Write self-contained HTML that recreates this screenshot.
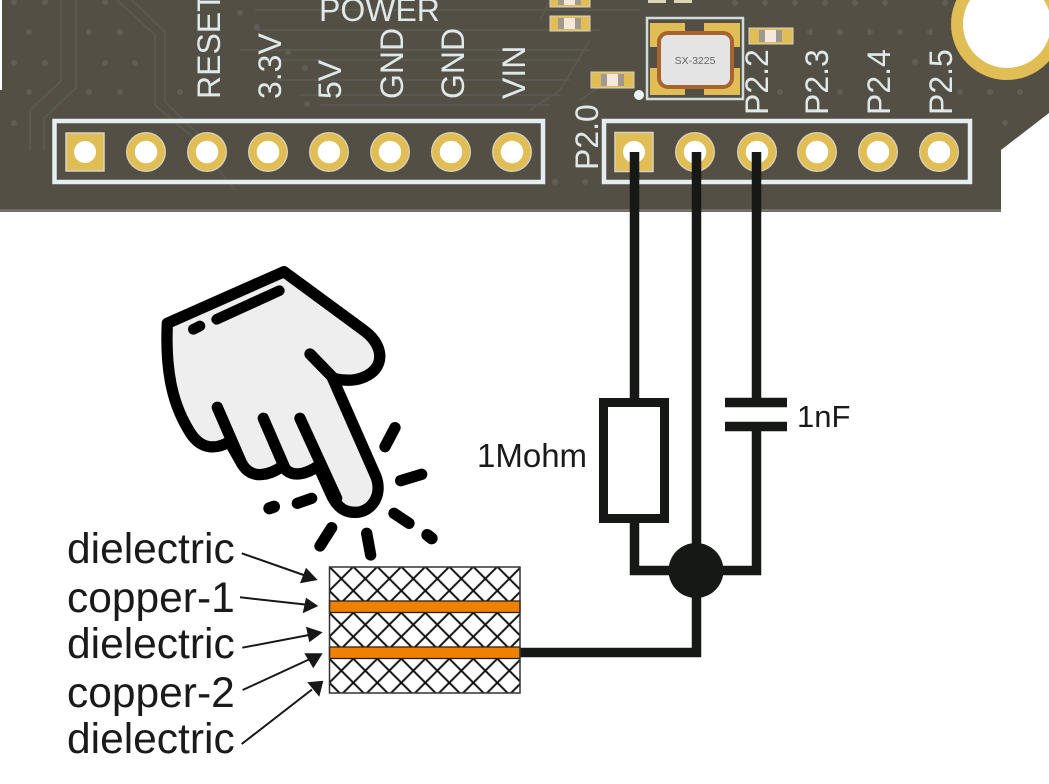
<!DOCTYPE html>
<html><head><meta charset="utf-8"><style>
html,body{margin:0;padding:0;background:#fff;width:1049px;height:784px;overflow:hidden}
svg{display:block}
text{font-family:"Liberation Sans",sans-serif}
</style></head><body>
<svg width="1049" height="784" viewBox="0 0 1049 784" xmlns="http://www.w3.org/2000/svg">
<defs>
<pattern id="h1" width="24" height="24" patternUnits="userSpaceOnUse" patternTransform="translate(329.3 566.7)"><path d="M-1 -1L25 25M25 -1L-1 25" stroke="#111" stroke-width="2" fill="none"/></pattern>
<pattern id="h2" width="24" height="24" patternUnits="userSpaceOnUse" patternTransform="translate(329.3 612.7)"><path d="M-1 -1L25 25M25 -1L-1 25" stroke="#111" stroke-width="2" fill="none"/></pattern>
<pattern id="h3" width="24" height="24" patternUnits="userSpaceOnUse" patternTransform="translate(329.3 658.7)"><path d="M-1 -1L25 25M25 -1L-1 25" stroke="#111" stroke-width="2" fill="none"/></pattern>
</defs>

<!-- board -->
<path d="M2 0V90H0V212H1001V150L1049 113V0Z" fill="#534f44"/>
<path d="M0 210.5H1001" stroke="#77756c" stroke-width="2.5"/>
<!-- traces -->
<g fill="none" stroke="#5a5850" stroke-width="2">
<path d="M61 0V81L30 110V150M76 0V88L44 118V150M117 0L155 35V105L190 135L235 190M132 0L165 32V102L215 150"/>
<path d="M255 10H640M255 30H600M240 50H590M260 60H580M275 80H570M300 95H560M320 105H550"/>
<path d="M550 0L540 20M590 40L560 90L530 110M610 80L580 100"/>
</g>
<g fill="#5f5e57">
<circle cx="14" cy="2" r="3"/><circle cx="45" cy="2" r="3"/><circle cx="105" cy="2" r="3"/>
<circle cx="29" cy="32" r="3"/><circle cx="89" cy="32" r="3"/><circle cx="120" cy="32" r="3"/>
<circle cx="14" cy="63" r="3"/><circle cx="45" cy="63" r="3"/><circle cx="105" cy="63" r="3"/><circle cx="135" cy="63" r="3"/>
<circle cx="29" cy="92" r="3"/><circle cx="89" cy="92" r="3"/><circle cx="120" cy="92" r="3"/><circle cx="180" cy="92" r="3"/>
<circle cx="14" cy="123" r="3"/><circle cx="240" cy="13" r="3"/><circle cx="257" cy="27" r="3"/><circle cx="288" cy="52" r="3"/>
<circle cx="305" cy="68" r="3"/><circle cx="307" cy="104" r="3"/>
<circle cx="555" cy="182" r="3"/><circle cx="585" cy="182" r="3"/>
<circle cx="810" cy="32" r="3"/><circle cx="840" cy="32" r="3"/><circle cx="870" cy="32" r="3"/><circle cx="900" cy="32" r="3"/><circle cx="930" cy="32" r="3"/>
<circle cx="780" cy="92" r="3"/><circle cx="840" cy="92" r="3"/><circle cx="960" cy="92" r="3"/><circle cx="990" cy="92" r="3"/><circle cx="1020" cy="92" r="3"/>
<circle cx="915" cy="62" r="3"/><circle cx="1005" cy="123" r="3"/>
<circle cx="735" cy="3" r="3"/><circle cx="765" cy="3" r="3"/><circle cx="795" cy="3" r="3"/><circle cx="825" cy="3" r="3"/><circle cx="855" cy="3" r="3"/><circle cx="885" cy="3" r="3"/><circle cx="945" cy="3" r="3"/>
</g>

<!-- mounting hole -->
<circle cx="1007" cy="24" r="50" fill="#fff" stroke="#e0bd55" stroke-width="12"/>

<!-- silk outlines -->
<rect x="54.500" y="121" width="488.500" height="61" fill="none" stroke="#e4eef0" stroke-width="4.500"/>
<rect x="604" y="121" width="366" height="61" fill="none" stroke="#e4eef0" stroke-width="4.500"/>

<!-- pads -->
<g fill="#d8d4be">
<circle cx="146" cy="152" r="20"/><circle cx="207" cy="152" r="20"/><circle cx="268" cy="152" r="20"/><circle cx="329" cy="152" r="20"/><circle cx="390" cy="152" r="20"/><circle cx="451" cy="152" r="20"/><circle cx="512" cy="152" r="20"/>
<circle cx="695" cy="152" r="20"/><circle cx="757" cy="152" r="20"/><circle cx="817" cy="152" r="20"/><circle cx="878" cy="152" r="20"/><circle cx="939" cy="152" r="20"/>
</g>
<g fill="#fff" stroke="#e0bd55" stroke-width="7.500">
<rect x="66" y="133" width="38" height="38" fill="#e0bd55" stroke="#d8d4be" stroke-width="1.500"/>
<circle cx="146" cy="152" r="15"/><circle cx="207" cy="152" r="15"/><circle cx="268" cy="152" r="15"/><circle cx="329" cy="152" r="15"/><circle cx="390" cy="152" r="15"/><circle cx="451" cy="152" r="15"/><circle cx="512" cy="152" r="15"/>
<rect x="615" y="132.500" width="38" height="39" fill="#e0bd55" stroke="#d8d4be" stroke-width="1.500"/>
<circle cx="695" cy="152" r="15"/><circle cx="757" cy="152" r="15"/><circle cx="817" cy="152" r="15"/><circle cx="878" cy="152" r="15"/><circle cx="939" cy="152" r="15"/>
</g>
<circle cx="85" cy="152" r="11" fill="#fff"/><circle cx="634" cy="152" r="11" fill="#fff"/>

<!-- silk text -->
<g fill="#dfe9ea" font-size="32">
<text x="319" y="21" font-size="32">POWER</text>
<text transform="translate(220 99) rotate(-90)">RESET</text>
<text transform="translate(281 99) rotate(-90)">3.3V</text>
<text transform="translate(341 99) rotate(-90)">5V</text>
<text transform="translate(403 99) rotate(-90)">GND</text>
<text transform="translate(464 99) rotate(-90)">GND</text>
<text transform="translate(525 99) rotate(-90)">VIN</text>
<text transform="translate(598 170) rotate(-90)">P2.0</text>
<text transform="translate(768 115) rotate(-90)">P2.2</text>
<text transform="translate(828 115) rotate(-90)">P2.3</text>
<text transform="translate(890 115) rotate(-90)">P2.4</text>
<text transform="translate(952 115) rotate(-90)">P2.5</text>
</g>

<!-- crystal -->
<rect x="647" y="18" width="96" height="81" fill="none" stroke="#cfdcdc" stroke-width="2.500"/>
<g fill="#e0bd55">
<rect x="650" y="23" width="35" height="24"/><rect x="704" y="23" width="36" height="24"/>
<rect x="650" y="68" width="35" height="27"/><rect x="704" y="68" width="36" height="27"/>
</g>
<rect x="659" y="33" width="73" height="54" rx="9" fill="#e4e4e4" stroke="#a8642f" stroke-width="4"/>
<text x="695" y="64" font-size="10.500" fill="#666" text-anchor="middle">SX-3225</text>
<circle cx="639" cy="95" r="5" fill="#e8f4f6"/>

<!-- SMD parts -->
<g>
<rect x="749" y="28" width="44" height="16" fill="#e0bd55" stroke="#d8d4be"/><rect x="759" y="30" width="23" height="12" fill="#a09a8e"/><rect x="765" y="30" width="11" height="12" fill="#f5e8da"/>
<rect x="591" y="72" width="43" height="16" fill="#e0bd55" stroke="#d8d4be"/><rect x="601" y="74" width="23" height="12" fill="#a09a8e"/><rect x="607" y="74" width="11" height="12" fill="#f5e8da"/>
<rect x="550" y="16" width="40" height="15" fill="#e0bd55" stroke="#d8d4be"/><rect x="558" y="18" width="23" height="11" fill="#a09a8e"/><rect x="564" y="18" width="11" height="11" fill="#f5e8da"/>
<rect x="550" y="-7" width="40" height="14" fill="#e0bd55" stroke="#d8d4be"/><rect x="558" y="-5" width="23" height="10" fill="#a09a8e"/><rect x="564" y="-5" width="11" height="10" fill="#f5e8da"/>
<rect x="648" y="-6" width="18" height="9" fill="#ddd5b8"/><rect x="674" y="-6" width="18" height="9" fill="#ddd5b8"/>
</g>

<!-- circuit -->
<g fill="none" stroke="#161816" stroke-width="9.500">
<path d="M634.500 152V402M696.500 152V652.500H520M756.500 152V402M756.500 426V570.500H634.500V518"/>
<rect x="603.500" y="402.500" width="61" height="116" fill="#fff" stroke-width="9"/>
<path d="M725 402.500H787M725 426.500H787"/>
</g>
<circle cx="696" cy="570.500" r="27.500" fill="#161816"/>

<text x="797" y="427" font-size="31" fill="#1a1a1a">1nF</text>
<text x="477" y="467" font-size="33" fill="#1a1a1a">1Mohm</text>

<!-- stack -->
<rect x="329.500" y="567" width="190.500" height="126" fill="#fff"/>
<rect x="329.500" y="567" width="190.500" height="34" fill="url(#h1)"/>
<rect x="329.500" y="613" width="190.500" height="34" fill="url(#h2)"/>
<rect x="329.500" y="659" width="190.500" height="34" fill="url(#h3)"/>
<rect x="329.500" y="601" width="190.500" height="11.500" fill="#f08000" stroke="#222" stroke-width="1.300"/>
<rect x="329.500" y="647" width="190.500" height="11.500" fill="#f08000" stroke="#222" stroke-width="1.300"/>
<rect x="329.500" y="567" width="190.500" height="126" fill="none" stroke="#333" stroke-width="1.500"/>

<!-- labels -->
<g font-size="42.500" fill="#1a1a1a">
<text x="67" y="563">dielectric</text>
<text x="67" y="612">copper-1</text>
<text x="67" y="658">dielectric</text>
<text x="67" y="707">copper-2</text>
<text x="67" y="753">dielectric</text>
</g>

<!-- arrows -->
<g stroke="#161816" stroke-width="2" fill="none">
<path d="M241.700 553.300L305 575.500M240 597.300L305 604.500M242.300 647.700L309 635M242.700 690L310 659M241.700 744L312 689.500"/>
</g>
<g fill="#161816">
<path d="M317.700 580L306 567.700L300 583.300Z"/>
<path d="M318.300 606L306 597.700L302.700 613.300Z"/>
<path d="M322.700 632.300L306 626.700L309.300 642.300Z"/>
<path d="M322.700 653.300L304.300 653.300L313.300 668.300Z"/>
<path d="M323.300 680.700L307.300 682.300L319.300 696.700Z"/>
</g>

<!-- hand -->
<g transform="translate(140 250) scale(.33333)" stroke="#000" stroke-width="34" stroke-linecap="round" stroke-linejoin="round" fill="none">
<path d="M82 220L432 65L670 240C725 280 735 335 695 368C655 398 610 392 578 385L708 680C730 740 690 788 645 787C605 788 585 760 572 730L535 648C505 668 455 690 428 648C395 672 335 695 305 640L268 575C230 598 185 600 152 550C100 470 75 370 82 220Z" fill="#eeeeee"/>
<path d="M510 312L578 382M232 472L305 640M370 505L435 655M480 505L590 745"/>
<path d="M230 208L418 122" stroke-width="32"/>
<path d="M160 238L180 228" stroke-width="32"/>
<path d="M735 590L765 533M782 692L845 673M472 760L515 745M540 888L575 833M680 850L692 915M762 790L807 820"/>
<path d="M388 775L402 770" stroke-width="36"/>
<path d="M862 855L875 865" stroke-width="36"/>
</g>
</svg>
</body></html>
